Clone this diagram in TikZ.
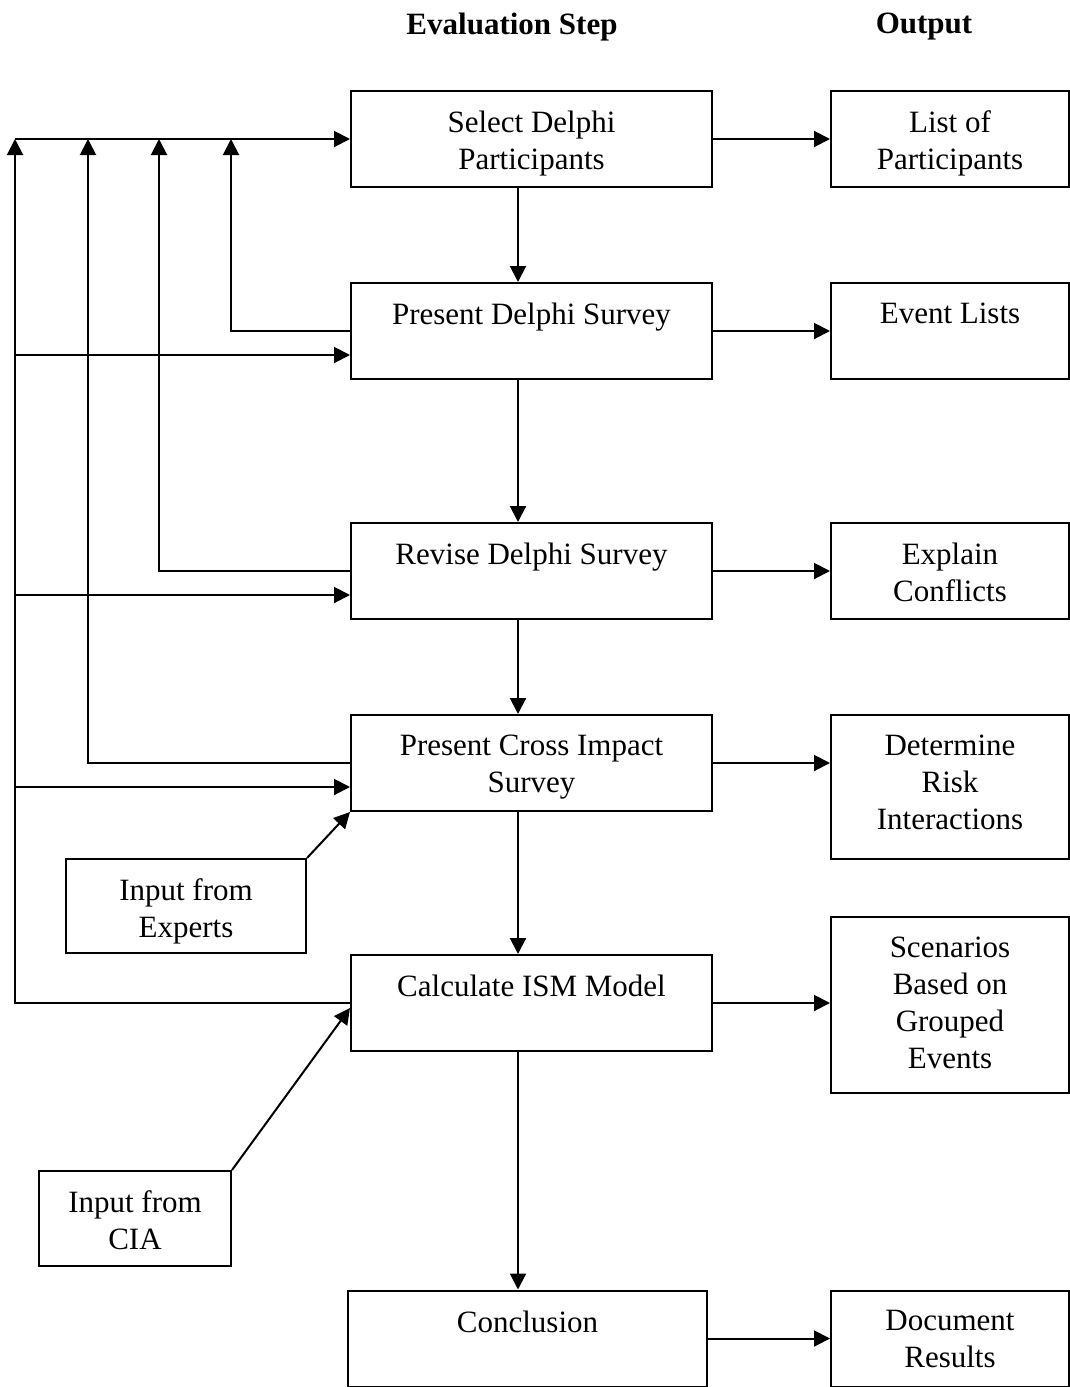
\documentclass[tikz,border=0pt]{standalone}
\usepackage{fontspec}
\setmainfont{Liberation Serif}
\usetikzlibrary{arrows.meta}

\begin{document}
\begin{tikzpicture}[
       x=1pt, y=-1pt,
       line width=2pt,
       >={Triangle[length=16pt,width=16pt]},
       box/.style={
         draw,
         inner sep=0pt,
         minimum height=96pt
       },
       txt/.style={
         anchor=north,
         inner sep=0pt,
         yshift=-20pt,
         align=center,
         font=\fontsize{31}{37}\selectfont
       }
     ]
\useasboundingbox (0,0) rectangle (1070,1387);

\node[font=\bfseries\fontsize{31}{37}\selectfont] (hstep) at (512,27) {Evaluation Step};
\node[font=\bfseries\fontsize{31}{37}\selectfont] (hout) at (924,27) {Output};

% evaluation steps
\node[box,minimum width=361pt,label={[txt]north:Select Delphi\\Participants}] (sel) at (531.5,139) {};
\node[box,minimum width=361pt,label={[txt]north:Present Delphi Survey}] (pds) at (531.5,331) {};
\node[box,minimum width=361pt,label={[txt]north:Revise Delphi Survey}] (rds) at (531.5,571) {};
\node[box,minimum width=361pt,label={[txt]north:Present Cross Impact\\Survey}] (cis) at (531.5,763) {};
\node[box,minimum width=361pt,label={[txt]north:Calculate ISM Model}] (ism) at (531.5,1003) {};
\node[box,minimum width=359pt,label={[txt]north:Conclusion}] (con) at (527.5,1338.5) {};

% outputs
\node[box,minimum width=238pt,label={[txt]north:List of\\Participants}] (lst) at (950,139) {};
\node[box,minimum width=238pt,label={[txt]north:Event Lists}] (evl) at (950,331) {};
\node[box,minimum width=238pt,label={[txt]north:Explain\\Conflicts}] (exc) at (950,571) {};
\node[box,minimum width=238pt,minimum height=144pt,label={[txt]north:Determine\\Risk\\Interactions}] (dri) at (950,787) {};
\node[box,minimum width=238pt,minimum height=176pt,label={[txt]north:Scenarios\\Based on\\Grouped\\Events}] (sce) at (950,1005) {};
\node[box,minimum width=238pt,label={[txt]north:Document\\Results}] (doc) at (950,1338.5) {};

% inputs
\node[box,minimum width=240pt,minimum height=94pt,label={[txt]north:Input from\\Experts}] (exp) at (186,906) {};
\node[box,minimum width=192pt,minimum height=95pt,label={[txt]north:Input from\\CIA}] (cia) at (135,1218.5) {};

\coordinate (mid) at (518,0);
\coordinate (r0) at (15,139);
\coordinate (r1) at (88,139);
\coordinate (r2) at (159,139);
\coordinate (r3) at (231,139);

\foreach \a/\b in {sel/pds,pds/rds,rds/cis,cis/ism,ism/con}
  \draw[->] (\a.south -| mid) -- (\b.north -| mid);
\foreach \a/\b in {sel/lst,pds/evl,rds/exc,cis/dri,ism/sce,con/doc}
  \draw[->] (\a.east) -- (\a.east -| \b.west);

% feedback
\draw[->] (r0) -- (sel.west);
\draw[->] (ism.west) -| (r0);
\draw[->] (cis.west) -| (r1);
\draw[->] (rds.west) -| (r2);
\draw[->] (pds.west) -| (r3);
\foreach \n in {pds,rds,cis} {
  \coordinate (in) at ([yshift=-24pt]\n.west);
  \draw[->] (in -| r0) -- (in);
}

\draw[->] (exp.north east) -- (cis.south west);
\draw[->] (cia.north east) -- ([yshift=-5pt]ism.west);

\end{tikzpicture}
\end{document}
